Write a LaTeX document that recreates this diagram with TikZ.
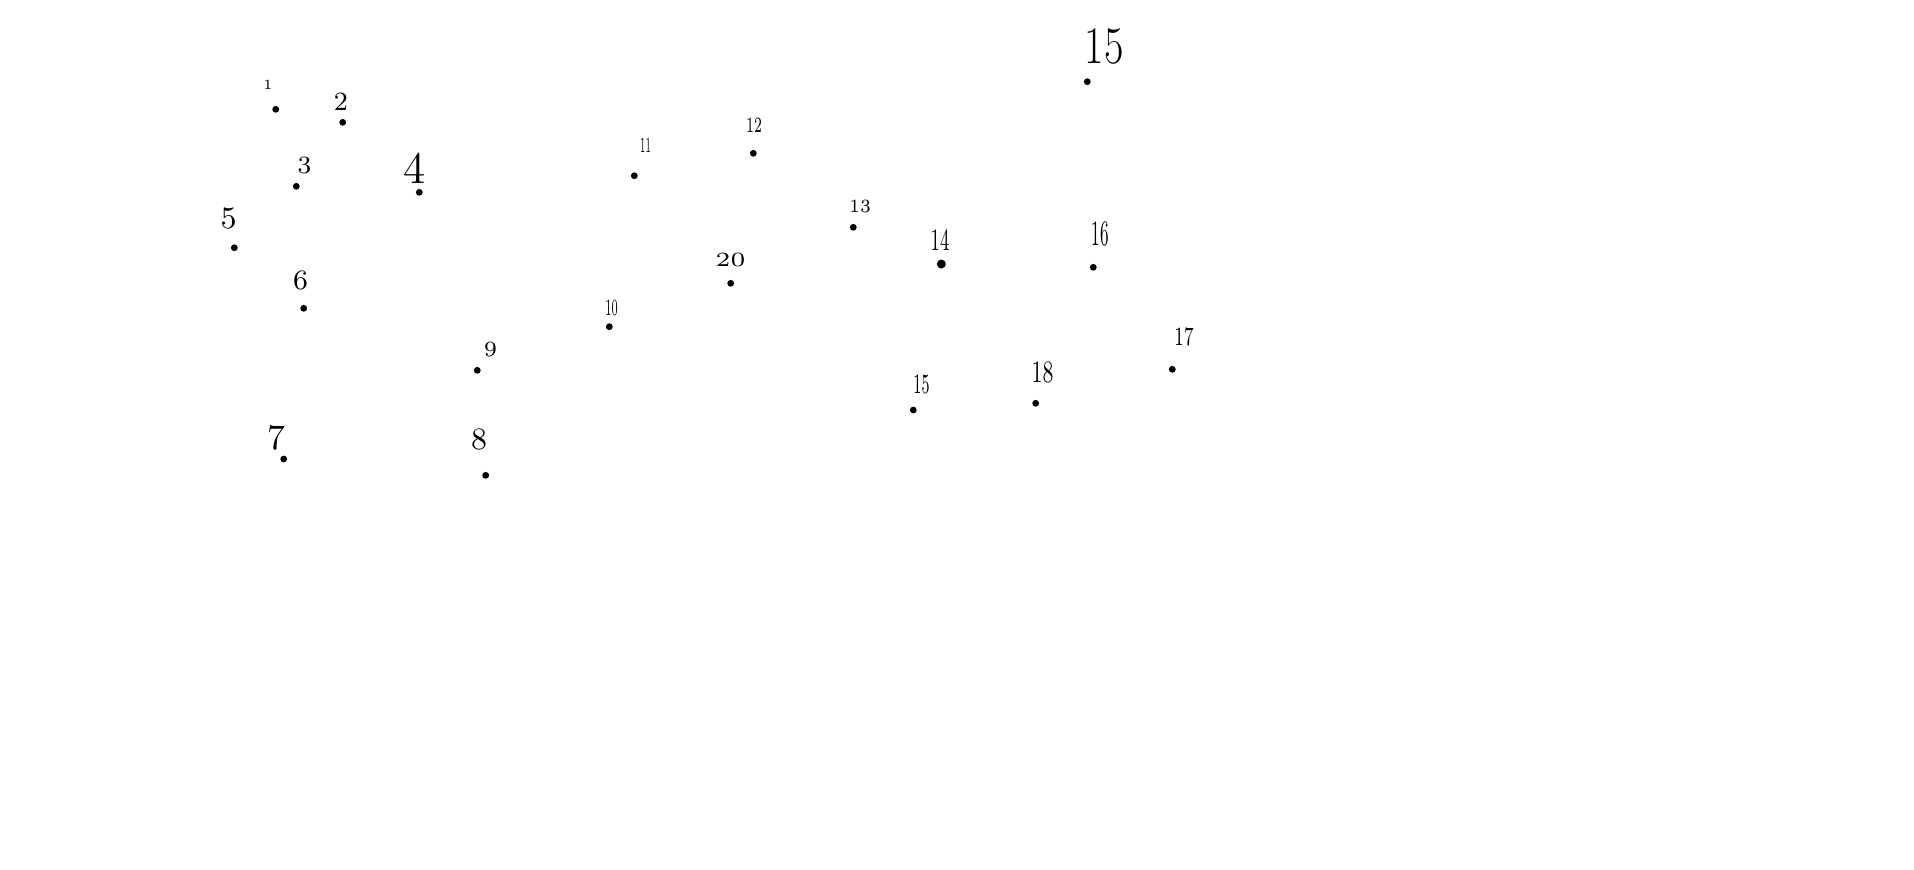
\documentclass[tikz,border=0pt]{standalone}
\begin{document}
\begin{tikzpicture}[x=0.01cm, y=-0.01cm, line cap=round, line join=round]
	% Page frame: one unit is one pixel of the sketch
	\useasboundingbox[fill=white] (0,0) rectangle (1914,869);
	
	% Style for the points
	\tikzset{
		pt/.style={circle, fill=black, inner sep=0pt, minimum size=6.8pt*0.2845/1},
		bigpt/.style={pt, minimum size=9pt*0.2845/1},
		num/.style={inner sep=0pt, text=black}
	}
	
	% Points: name/x/y
	\foreach \name/\px/\py in {p1/275.7/109.3, p2/342.7/122.3, p3/296.3/186.3, p4/419.3/192.3,
		p5/234.3/247.7, p6/303.7/308.3, p7/283.7/459, p8/485.7/475.3, p9/477.3/370.3,
		p10/609.3/326.7, p11/634.3/175.7, p12/753.3/153.3, p13/853.3/227.3,
		p15a/1087.3/81.7, p16/1093.3/267.3, p17/1172.3/369.3, p18/1035.7/403.3,
		p19/913.3/410, p20/730.7/283.3}
		\node[pt] (\name) at (\px,\py) {};
	\node[bigpt] (p14) at (941.3,264) {};
	
	% Labels: name/x/y/text/digit height in px/horizontal squeeze
	\foreach \name/\lx/\ly/\txt/\h/\xs in {l1/268/84.5/1/9/1, l2/341/101.5/2/17/1, l3/304.5/165/3/16/1,
		l4/414.5/168.5/4/29/1, l5/228.5/218/5/20/1, l6/300.5/280/6/18/1, l7/276/437.5/7/23/1,
		l8/479/439/8/20/1, l9/490.5/349/9/14/1, l10/611.5/307.5/10/15/0.47, l11/645.5/145/11/14/0.4,
		l12/754/125/12/14/0.6, l13/860/206/13/12/0.86, l14/940/240/14/20/0.58, l15a/1104/46/15/34/0.8,
		l16/1100.5/233.5/16/23/0.48, l17/1184/336.5/17/17/0.68, l18/1042.5/372/18/20/0.68,
		l19/921.5/384/15/18/0.54, l20/730.5/259.5/20/13/1.2}
	{
		\pgfmathsetmacro{\fs}{0.442*\h}
		\node[num, xscale=\xs, font=\fontsize{\fs pt}{\fs pt}\selectfont] (\name) at (\lx,\ly) {\txt};
	}
\end{tikzpicture}
\end{document}
